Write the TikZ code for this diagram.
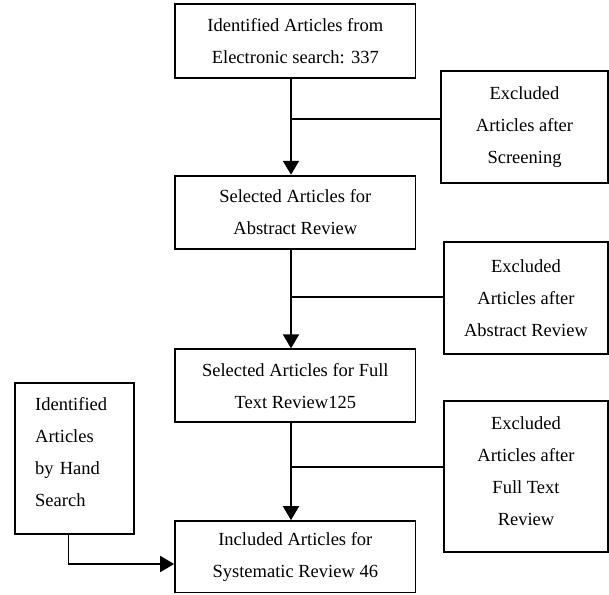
\documentclass[tikz,border=0pt]{standalone}
\usepackage{fontspec}
\setmainfont{Liberation Serif}
\usetikzlibrary{arrows.meta}
\begin{document}
\begin{tikzpicture}[x=1pt,y=-1pt,
  txt/.style={inner sep=0pt,align=center,font=\fontsize{18.5}{32}\selectfont},
  box/.style={txt,draw,line width=1.8pt,rectangle},
  conn/.style={line width=1.8pt},
  arr/.style={conn,-{Triangle[length=14pt,width=16pt]}}]
\useasboundingbox (0,0) rectangle (609,594);
% main column
\node[box,minimum width=240.5pt,minimum height=73.4pt] (b1) at (295.3,41) {Identified Articles from\\Electronic search: 337};
\node[box,minimum width=240.5pt,minimum height=73.3pt] (b2) at (295.3,212.3) {Selected Articles for\\Abstract Review};
\node[box,minimum width=240.5pt,minimum height=73pt] (b3) at (295.3,385.8) {Selected Articles for Full\\Text Review125};
\node[box,minimum width=240.5pt,minimum height=71.5pt] (b4) at (295.3,556.8) {Included Articles for\\Systematic Review 46};
% right boxes
\node[box,minimum width=167pt,minimum height=112pt] (r1) at (524.5,127.3) {Excluded\\Articles after\\Screening};
\node[box,minimum width=164pt,minimum height=111.7pt] (r2) at (526,298.2) {Excluded\\Articles after\\Abstract Review};
\node[box,minimum width=164pt,minimum height=151.6pt] (r3) at (526,476.5) {};
\node[txt] (r3t) at ([yshift=5.6pt]r3.center) {Excluded\\Articles after\\Full Text\\Review};
% left box
\node[box,minimum width=119pt,minimum height=151.3pt] (l) at (74.2,458.3) {};
\node[txt,align=left,text width=78pt] (lt) at ([yshift=5.8pt]l.center) {Identified\\Articles\\by Hand\\Search};
% connectors
\coordinate (v1) at ([xshift=-4.3pt]b1.south);
\coordinate (v2) at ([xshift=-4.3pt]b2.south);
\coordinate (v3) at ([xshift=-4.3pt]b3.south);
\draw[arr] (v1) -- (v1 |- b2.north);
\draw[arr] (v2) -- (v2 |- b3.north);
\draw[arr] (v3) -- (v3 |- b4.north);
\coordinate (j1) at (291,119.3);
\coordinate (j2) at (291,297.3);
\coordinate (j3) at (291,467.3);
\draw[conn] (r1.west |- j1) -- (j1);
\draw[conn] (r2.west |- j2) -- (j2);
\draw[conn] (r3.west |- j3) -- (j3);
\coordinate (k) at (68.4,564);
\draw[arr] (l.south -| k) |- (b4.west |- k);
\end{tikzpicture}
\end{document}
